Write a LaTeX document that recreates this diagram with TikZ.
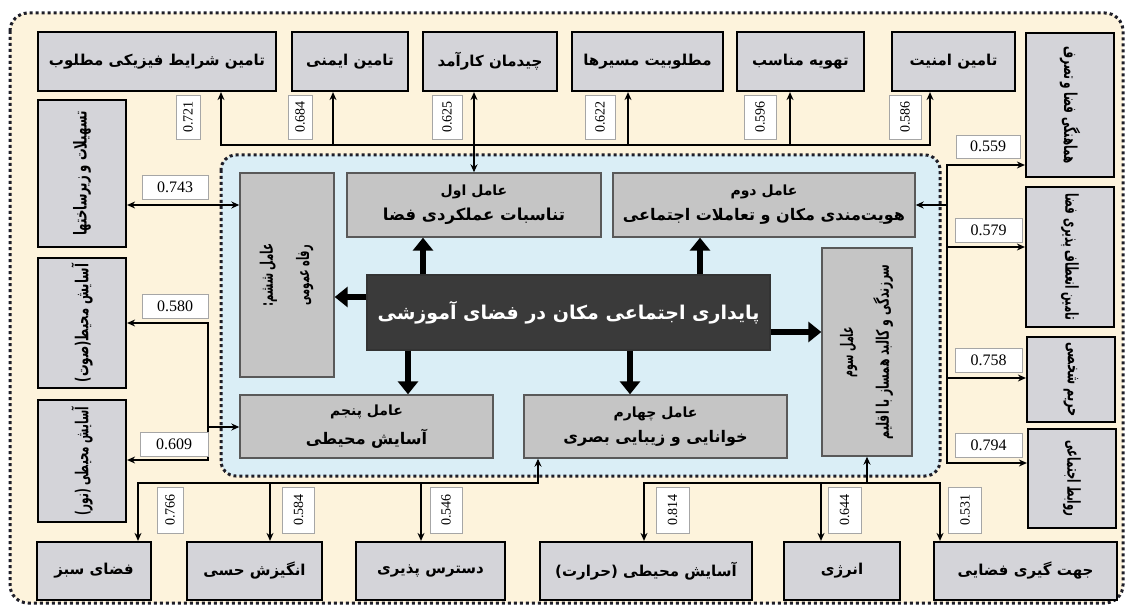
\documentclass[tikz,border=0pt]{standalone}
\usepackage{fontspec}
\setmainfont{Liberation Serif}
\newfontfamily\arabicfont[Script=Arabic]{DejaVu Sans}
\TeXXeTstate=1
\usetikzlibrary{arrows.meta}
\newcommand{\prs}[1]{{\arabicfont\bfseries\beginR #1\endR}}
\newcommand{\fitw}[2]{\resizebox{#1}{1.15\height}{#2}}
\definecolor{creamc}{RGB}{253,243,220}
\definecolor{lbluec}{RGB}{218,238,246}
\definecolor{oboxc}{RGB}{212,212,217}
\definecolor{iboxc}{RGB}{197,197,197}
\definecolor{darkc}{RGB}{58,58,58}
\definecolor{dotc}{RGB}{30,30,40}
\begin{document}
\begin{tikzpicture}[x=1pt,y=-1pt,
  obx/.style={draw=black,line width=2.2pt,fill=oboxc,inner sep=0pt,font=\fontsize{15}{17}\selectfont},
  vbx/.style={draw=black,line width=2.2pt,fill=oboxc,inner sep=0pt,font=\fontsize{15.5}{17}\selectfont},
  ibx/.style={draw=black!65,line width=1.4pt,fill=iboxc,inner sep=0pt,align=center,font=\fontsize{14}{16}\selectfont},
  vibx/.style={draw=black!65,line width=1.4pt,fill=iboxc,inner sep=0pt,align=center,font=\fontsize{15}{17}\selectfont},
  cbx/.style={draw=black!80,line width=1.4pt,fill=darkc,text=white,inner sep=0pt,font=\fontsize{19}{21}\selectfont},
  lbl/.style={draw=black!35,line width=0.6pt,fill=white,inner sep=0pt,font=\fontsize{16}{16}\selectfont},
  vlbl/.style={draw=black!35,line width=0.6pt,fill=white,inner sep=0pt,font=\fontsize{14}{14}\selectfont},
  con/.style={line width=2.2pt,-{Stealth[length=8pt,width=7pt]}},
  dcon/.style={line width=2.2pt,{Stealth[length=8pt,width=7pt]}-{Stealth[length=8pt,width=7pt]}},
  bigarr/.style={line width=6pt,-{Triangle[length=13pt,width=20pt]}},
  dotbord/.style={draw=dotc,line width=3pt,dash pattern=on 3pt off 3pt}
]
\useasboundingbox (0,0) rectangle (1128,607);
\fill[white] (0,0) rectangle (1128,607);
\draw[dotbord,fill=creamc,rounded corners=18pt] (10,13) rectangle (1123,603);
\draw[dotbord,fill=lbluec,rounded corners=15pt] (221,155) rectangle (940,476);

% top row
\node[obx,minimum width=238pt,minimum height=59pt] (t1) at (157,61.5) {\prs{تامین شرایط فیزیکی مطلوب}};
\node[obx,minimum width=116pt,minimum height=59pt] (t2) at (350,61.5) {\prs{تامین ایمنی}};
\node[obx,minimum width=134pt,minimum height=59pt] (t3) at (490,61.5) {\prs{چیدمان کارآمد}};
\node[obx,minimum width=151pt,minimum height=59pt] (t4) at (647.5,61.5) {\prs{مطلوبیت مسیرها}};
\node[obx,minimum width=127pt,minimum height=59pt] (t5) at (800.5,61.5) {\prs{تهویه مناسب}};
\node[obx,minimum width=123pt,minimum height=59pt] (t6) at (953.5,61.5) {\prs{تامین امنیت}};

% right column
\node[vbx,minimum width=88pt,minimum height=144pt] (r1) at (1070,105) {\rotatebox{-90}{\fitw{117pt}{\prs{هماهنگی فضا و تصرف}}}};
\node[vbx,minimum width=88pt,minimum height=140pt] (r2) at (1070,257) {\rotatebox{-90}{\fitw{126pt}{\prs{تامین انعطاف پذیری فضا}}}};
\node[vbx,minimum width=88pt,minimum height=85pt] (r3) at (1071,379.5) {\rotatebox{-90}{\fitw{74pt}{\prs{حریم شخصی}}}};
\node[vbx,minimum width=88pt,minimum height=99pt] (r4) at (1072,478.5) {\rotatebox{-90}{\fitw{76pt}{\prs{روابط اجتماعی}}}};

% left column
\node[vbx,minimum width=88pt,minimum height=147pt] (l1) at (82,173.5) {\rotatebox{90}{\fitw{124pt}{\prs{تسهیلات و زیرساختها}}}};
\node[vbx,minimum width=88pt,minimum height=130pt] (l2) at (82,323) {\rotatebox{90}{\fitw{118pt}{\prs{آسایش محیط(صوت)}}}};
\node[vbx,minimum width=88pt,minimum height=122pt] (l3) at (82,461) {\rotatebox{90}{\fitw{108pt}{\prs{آسایش محیطی (نور)}}}};

% bottom row
\node[obx,minimum width=114pt,minimum height=58pt] (b1) at (94,571) {\prs{فضای سبز}};
\node[obx,minimum width=135pt,minimum height=58pt] (b2) at (254.5,571) {\prs{انگیزش حسی}};
\node[obx,minimum width=149pt,minimum height=58pt] (b3) at (430.5,571) {\prs{دسترس پذیری}};
\node[obx,minimum width=212pt,minimum height=58pt] (b4) at (646,571) {\prs{آسایش محیطی (حرارت)}};
\node[obx,minimum width=116pt,minimum height=58pt] (b5) at (842,571) {\prs{انرژی}};
\node[obx,minimum width=183pt,minimum height=58pt] (b6) at (1025.5,571) {\prs{جهت گیری فضایی}};

% inner boxes
\node[ibx,minimum width=254pt,minimum height=64pt] (i1) at (474,205) {\prs{عامل اول}\\[9pt]{\fontsize{16.5}{18}\selectfont\prs{تناسبات عملکردی فضا}}};
\node[ibx,minimum width=302pt,minimum height=64pt] (i2) at (764,205) {\prs{عامل دوم}\\[9pt]{\fontsize{16}{18}\selectfont\prs{هویت‌مندی مکان و تعاملات اجتماعی}}};
\node[vibx,minimum width=94pt,minimum height=204pt] (i6) at (287,275) {\rotatebox{90}{\begin{tabular}{@{}c@{}}\fitw{63pt}{\prs{عامل ششم:}}\\[18pt]\fitw{60pt}{\prs{رفاه عمومی}}\end{tabular}}};
\node[vibx,minimum width=90pt,minimum height=208pt] (i3) at (867,352) {\rotatebox{90}{\begin{tabular}{@{}c@{}}\fitw{50pt}{\prs{عامل سوم}}\\[15pt]\fitw{175pt}{\prs{سرزندگی و کالبد همساز با اقلیم}}\end{tabular}}};
\node[ibx,minimum width=253pt,minimum height=63pt] (i5) at (366.5,426.5) {\prs{عامل پنجم}\\[9pt]{\fontsize{16}{18}\selectfont\prs{آسایش محیطی}}};
\node[ibx,minimum width=263pt,minimum height=63pt] (i4) at (655.5,426.5) {\prs{عامل چهارم}\\[9pt]{\fontsize{16}{18}\selectfont\prs{خوانایی و زیبایی بصری}}};
\node[cbx,minimum width=403pt,minimum height=75pt] (c) at (568.5,312.5) {\prs{پایداری اجتماعی مکان در فضای آموزشی}};

% central arrows
\coordinate (ca1) at (423,0); \coordinate (ca2) at (700,0);
\coordinate (ca3) at (408,0); \coordinate (ca4) at (630,0);
\coordinate (cb1) at (0,297); \coordinate (cb2) at (0,332);
\draw[bigarr] (c.north -| ca1) -- (i1.south -| ca1);
\draw[bigarr] (c.north -| ca2) -- (i2.south -| ca2);
\draw[bigarr] (c.south -| ca3) -- (i5.north -| ca3);
\draw[bigarr] (c.south -| ca4) -- (i4.north -| ca4);
\draw[bigarr] (c.west |- cb1) -- (i6.east |- cb1);
\draw[bigarr] (c.east |- cb2) -- (i3.west |- cb2);

% top bus
\coordinate (d1) at (221,145); \coordinate (d2) at (333,145); \coordinate (d3) at (474,145);
\coordinate (d4) at (628,145); \coordinate (d5) at (790,145); \coordinate (d6) at (930,145);
\draw[con] (d3) -- (d1) -- (d1 |- t1.south);
\draw[con] (d3) -- (d6) -- (d6 |- t6.south);
\draw[con] (d2) -- (d2 |- t2.south);
\draw[con] (d3) -- (d3 |- t3.south);
\draw[con] (d4) -- (d4 |- t4.south);
\draw[con] (d5) -- (d5 |- t5.south);
\draw[con] (d3) -- (d3 |- i1.north);

% left connectors
\coordinate (ya) at (0,205);
\draw[dcon] (l1.east |- ya) -- (i6.west |- ya);
\coordinate (lv1) at (208,323); \coordinate (lv2) at (208,460); \coordinate (lv3) at (208,427);
\draw[con] (lv2) -- (lv1) -- (lv1 -| l2.east);
\draw[con] (lv1) -- (lv2) -- (lv2 -| l3.east);
\draw[con] (lv3) -- (lv3 -| i5.west);

% bottom left bus
\coordinate (bl1) at (138,483); \coordinate (bl2) at (270,483);
\coordinate (bl3) at (421,483); \coordinate (bl4) at (538,483);
\draw[con] (bl4) -- (bl1) -- (bl1 |- b1.north);
\draw[con] (bl2) -- (bl2 |- b2.north);
\draw[con] (bl3) -- (bl3 |- b3.north);
\draw[con] (bl1) -- (bl4) -- (bl4 |- i4.south);

% bottom right bus
\coordinate (br1) at (644,483); \coordinate (br2) at (821,483);
\coordinate (br3) at (867,483); \coordinate (br4) at (940,483);
\draw[con] (br4) -- (br1) -- (br1 |- b4.north);
\draw[con] (br1) -- (br4) -- (br4 |- b6.north);
\draw[con] (br2) -- (br2 |- b5.north);
\draw[con] (br3) -- (br3 |- i3.south);

% right connectors
\coordinate (rv1) at (947,165); \coordinate (rv2) at (947,205); \coordinate (rv3) at (947,247);
\coordinate (rv4) at (947,378); \coordinate (rv5) at (947,463);
\draw[con] (rv5) -- (rv1) -- (rv1 -| r1.west);
\draw[con] (rv1) -- (rv5) -- (rv5 -| r4.west);
\draw[con] (rv2) -- (rv2 -| i2.east);
\draw[con] (rv3) -- (rv3 -| r2.west);
\draw[con] (rv4) -- (rv4 -| r3.west);

% labels top
\node[vlbl,minimum width=24pt,minimum height=44pt] (n1) at (188,117) {\rotatebox{90}{0.721}};
\node[vlbl,minimum width=24pt,minimum height=44pt] (n2) at (300,117) {\rotatebox{90}{0.684}};
\node[vlbl,minimum width=30pt,minimum height=44pt] (n3) at (447,117) {\rotatebox{90}{0.625}};
\node[vlbl,minimum width=30pt,minimum height=44pt] (n4) at (600,117) {\rotatebox{90}{0.622}};
\node[vlbl,minimum width=32pt,minimum height=44pt] (n5) at (760,117) {\rotatebox{90}{0.596}};
\node[vlbl,minimum width=32pt,minimum height=44pt] (n6) at (905,117) {\rotatebox{90}{0.586}};
% labels bottom
\node[vlbl,minimum width=26pt,minimum height=46pt] (m1) at (170,510) {\rotatebox{90}{0.766}};
\node[vlbl,minimum width=32pt,minimum height=46pt] (m2) at (298.5,510) {\rotatebox{90}{0.584}};
\node[vlbl,minimum width=32pt,minimum height=46pt] (m3) at (446,510) {\rotatebox{90}{0.546}};
\node[vlbl,minimum width=33pt,minimum height=46pt] (m4) at (672.5,510) {\rotatebox{90}{0.814}};
\node[vlbl,minimum width=33pt,minimum height=46pt] (m5) at (844.5,510) {\rotatebox{90}{0.644}};
\node[vlbl,minimum width=33pt,minimum height=46pt] (m6) at (965,510) {\rotatebox{90}{0.531}};
% labels sides
\node[lbl,minimum width=66pt,minimum height=24pt] (s1) at (175,187) {0.743};
\node[lbl,minimum width=66pt,minimum height=24pt] (s2) at (175,306.5) {0.580};
\node[lbl,minimum width=68pt,minimum height=24pt] (s3) at (174,444) {0.609};
\node[lbl,minimum width=64pt,minimum height=23pt] (s4) at (988,146.5) {0.559};
\node[lbl,minimum width=67pt,minimum height=24pt] (s5) at (988.5,230) {0.579};
\node[lbl,minimum width=67pt,minimum height=24pt] (s6) at (988.5,360) {0.758};
\node[lbl,minimum width=67pt,minimum height=24pt] (s7) at (988.5,445) {0.794};
\end{tikzpicture}
\end{document}
